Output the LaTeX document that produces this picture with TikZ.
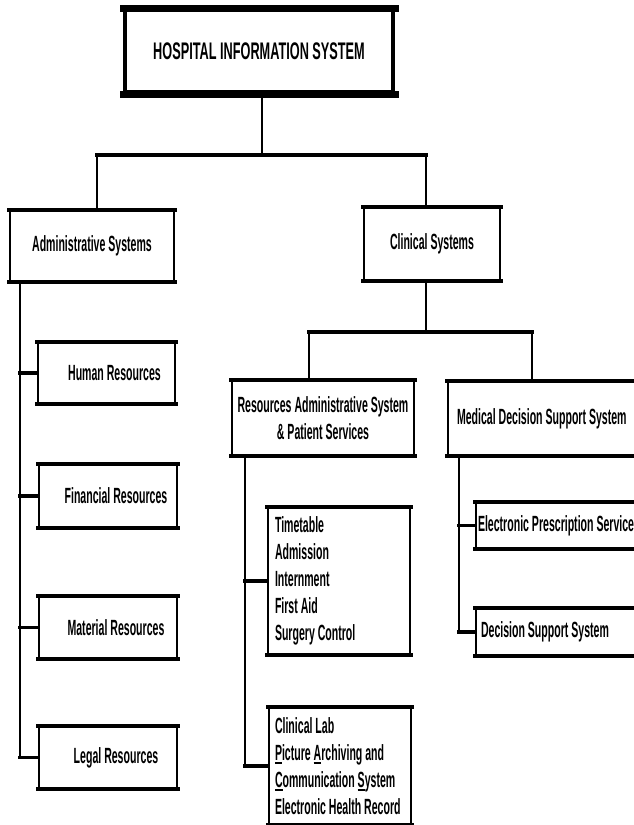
\documentclass[tikz,border=0pt]{standalone}
\usepackage{fontspec}
\setmainfont[FakeStretch=0.48]{Liberation Sans}
\newfontfamily\titlefont[FakeStretch=0.53]{Liberation Sans}
\newcommand\ulletter[1]{\leavevmode\setbox0\hbox{#1}\rlap{\rule[-3.2pt]{\wd0}{1.6pt}}#1}
\tikzset{
  hedge/.style={line width=4pt, line cap=rect},
  tedge/.style={line width=7pt, line cap=rect},
  box/.style={draw, line width=2pt, inner sep=0pt, anchor=north west,
    append after command={(\tikzlastnode.north west) edge[hedge] (\tikzlastnode.north east)
                          (\tikzlastnode.south west) edge[hedge] (\tikzlastnode.south east)}},
  titlebox/.style={draw, line width=4pt, inner sep=0pt, anchor=north west,
    font=\fontsize{24}{28}\titlefont\bfseries,
    append after command={(\tikzlastnode.north west) edge[tedge] (\tikzlastnode.north east)
                          (\tikzlastnode.south west) edge[tedge] (\tikzlastnode.south east)}},
  vconn/.style={line width=2pt},
  hconn/.style={line width=3.5pt, line cap=rect},
}
\begin{document}
\begin{tikzpicture}[x=1pt, y=-1pt, font=\fontsize{22}{27}\selectfont\bfseries]
\clip (0,0) rectangle (634,825);
\fill[white] (0,0) rectangle (634,825);

% boxes
\node[titlebox, minimum width=268pt, minimum height=82pt] (his) at (123,8) {HOSPITAL INFORMATION SYSTEM};
\node[box, minimum width=164pt, minimum height=70pt] (adm) at (9,210) {Administrative Systems};
\node[box, minimum width=136pt, minimum height=72pt] (cli) at (363,207) {Clinical Systems};

\node[box, minimum width=137pt, minimum height=60pt] (hr) at (37,342) {\hspace*{16pt}Human Resources};
\node[box, minimum width=138pt, minimum height=62pt] (fin) at (38,464) {\hspace*{16pt}Financial Resources};
\node[box, minimum width=138pt, minimum height=61pt] (mat) at (38,596) {\hspace*{16pt}Material Resources};
\node[box, minimum width=138pt, minimum height=61pt] (leg) at (38,726) {\hspace*{16pt}Legal Resources};

\node[box, align=center, minimum width=182pt, minimum height=74pt] (ras) at (231,380)
  {Resources Administrative System\\ \& Patient Services};
\node[box, align=flush left, text width=191pt, inner xsep=9pt, minimum height=73pt] (mds) at (447,381)
  {Medical Decision Support System};
\node[box, align=flush left, text width=166pt, inner xsep=2pt, minimum height=45pt] (eps) at (475,502)
  {Electronic Prescription Service};
\node[box, align=flush left, text width=160pt, inner xsep=5pt, minimum height=46pt] (dss) at (475,608)
  {Decision Support System};

\node[box, align=flush left, text width=128pt, inner xsep=7pt, minimum height=146pt] (tt) at (267,507)
  {Timetable\\ Admission\\ Internment\\ First Aid\\ Surgery Control};
\node[box, align=flush left, text width=130pt, inner xsep=6pt, minimum height=116pt] (cl) at (268,707)
  {Clinical Lab\\ \ulletter{P}icture \ulletter{A}rchiving and\\ \ulletter{C}ommunication \ulletter{S}ystem\\ Electronic Health Record};

% junction coordinates
\coordinate (j0) at (262,155);
\coordinate (ja) at (97,155);
\coordinate (jc) at (426,155);
\coordinate (k0) at (426,332);
\coordinate (kr) at (309,332);
\coordinate (km) at (532,332);
\coordinate (ta) at (20,280);
\coordinate (tr) at (245,454);
\coordinate (tm) at (459,454);

% top level
\draw[vconn] (his.south -| j0) -- (j0);
\draw[hconn] (ja) -- (jc);
\draw[vconn] (ja) -- (adm.north -| ja);
\draw[vconn] (jc) -- (cli.north -| jc);

% administrative branch
\draw[vconn] (ta) -- (ta |- leg.west);
\draw[hconn] (ta |- hr.west) -- (hr.west);
\draw[hconn] (ta |- fin.west) -- (fin.west);
\draw[hconn] (ta |- mat.west) -- (mat.west);
\draw[hconn] (ta |- leg.west) -- (leg.west);

% clinical branch
\draw[vconn] (cli.south -| k0) -- (k0);
\draw[hconn] (kr) -- (km);
\draw[vconn] (kr) -- (ras.north -| kr);
\draw[vconn] (km) -- (mds.north -| km);

% resources administrative branch
\draw[vconn] (tr) -- (tr |- cl.west);
\draw[hconn] (tr |- tt.west) -- (tt.west);
\draw[hconn] (tr |- cl.west) -- (cl.west);

% medical decision branch
\draw[vconn] (tm) -- (tm |- dss.west);
\draw[hconn] (tm |- eps.west) -- (eps.west);
\draw[hconn] (tm |- dss.west) -- (dss.west);
\end{tikzpicture}
\end{document}
